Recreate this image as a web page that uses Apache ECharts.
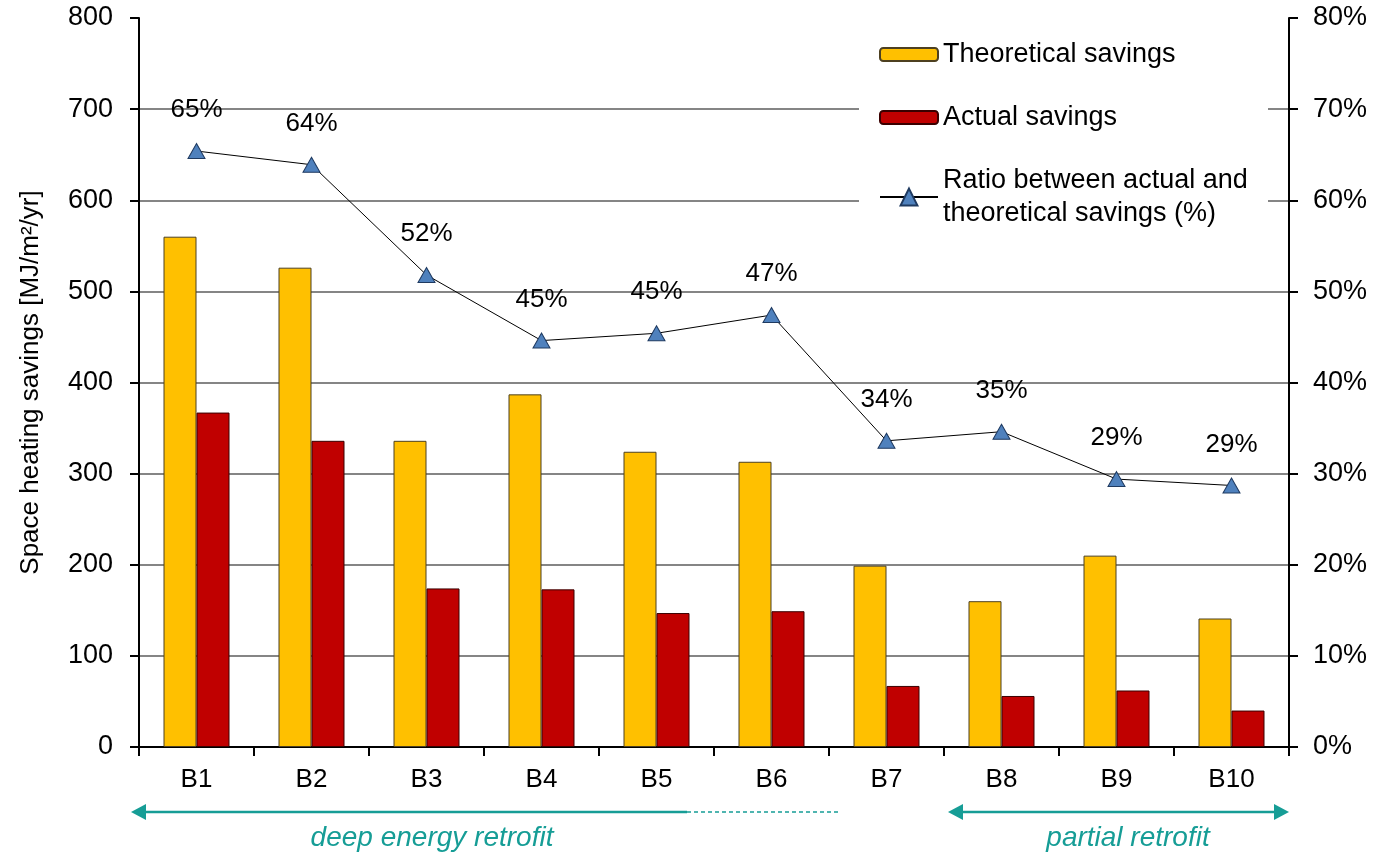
<!DOCTYPE html>
<html>
<head>
<meta charset="utf-8">
<script src="https://cdn.jsdelivr.net/npm/echarts@6/dist/echarts.min.js"></script>
<style>
html,body{margin:0;padding:0;background:#fff;}
#chart{width:1376px;height:856px;}
</style>
</head>
<body>
<div id="chart"></div>
<script>
const categories = ['B1','B2','B3','B4','B5','B6','B7','B8','B9','B10'];
const theoretical = [560, 526, 336, 387, 324, 313, 199, 160, 210, 141];
const actual = [367, 336, 174, 173, 147, 149, 67, 56, 62, 40];
const ratio = [65.4, 63.9, 51.8, 44.6, 45.4, 47.4, 33.6, 34.6, 29.4, 28.7];
const ratioLabels = ['65%','64%','52%','45%','45%','47%','34%','35%','29%','29%'];
const leftTicks = [0, 800, 100];
const rightTicks = [0, 80, 10];

const FONT = '"Liberation Sans", Arial, sans-serif';
const TEAL = '#169d96';
const RATIO_NAME = 'Ratio between actual and\ntheoretical savings (%)';

const chart = echarts.init(document.getElementById('chart'));
chart.setOption({
  animation: false,
  backgroundColor: '#fff',
  textStyle: { fontFamily: FONT },
  grid: { left: 139, right: 87, top: 18, bottom: 109 },
  legend: [{
    orient: 'vertical',
    left: 859,
    top: 30,
    padding: [8, 20, 8, 20],
    itemWidth: 58,
    itemHeight: 13,
    itemGap: 30,
    textStyle: { fontFamily: FONT, fontSize: 27, color: '#000', lineHeight: 33 },
    data: ['Theoretical savings', 'Actual savings']
  }, {
    orient: 'vertical',
    left: 859,
    top: 156,
    padding: [8, 20, 8, 20],
    itemWidth: 58,
    itemHeight: 21,
    textStyle: { fontFamily: FONT, fontSize: 27, color: '#000', lineHeight: 33 },
    data: [RATIO_NAME]
  }],
  xAxis: [{
    type: 'category',
    data: categories,
    axisLine: { lineStyle: { color: '#000', width: 2 } },
    axisTick: { show: true, length: 9, lineStyle: { color: '#000', width: 2 } },
    axisLabel: { fontFamily: FONT, fontSize: 26, color: '#000', margin: 20 },
    splitLine: { show: false }
  }, {
    type: 'category',
    position: 'top',
    data: categories,
    axisLine: { lineStyle: { color: '#000', width: 2 } },
    axisTick: { show: false },
    axisLabel: { show: false }
  }],
  yAxis: [{
    type: 'value',
    min: leftTicks[0], max: leftTicks[1], interval: leftTicks[2],
    name: 'Space heating savings [MJ/m\u00b2/yr]',
    nameLocation: 'middle',
    nameGap: 95,
    nameTextStyle: { fontFamily: FONT, fontSize: 26, color: '#000' },
    axisLine: { show: true, lineStyle: { color: '#000', width: 2 } },
    axisTick: { show: true, length: 9, lineStyle: { color: '#000', width: 2 } },
    axisLabel: { fontFamily: FONT, fontSize: 27, color: '#000', margin: 26 },
    splitLine: { show: true, showMinLine: false, showMaxLine: false, lineStyle: { color: '#858585', width: 2 } }
  }, {
    type: 'value',
    min: rightTicks[0], max: rightTicks[1], interval: rightTicks[2],
    position: 'right',
    axisLine: { show: true, lineStyle: { color: '#000', width: 2 } },
    axisTick: { show: true, length: 9, lineStyle: { color: '#000', width: 2 } },
    axisLabel: { fontFamily: FONT, fontSize: 27, color: '#000', margin: 24, formatter: '{value}%' },
    splitLine: { show: false }
  }],
  series: [{
    name: 'Theoretical savings',
    type: 'bar',
    data: theoretical,
    barWidth: 33,
    barGap: '0%',
    itemStyle: { color: '#FFC000', borderColor: '#4d4020', borderWidth: 1 }
  }, {
    name: 'Actual savings',
    type: 'bar',
    data: actual,
    barWidth: 33,
    barGap: '0%',
    itemStyle: { color: '#C00000', borderColor: '#3a0000', borderWidth: 1 }
  }, {
    name: RATIO_NAME,
    type: 'line',
    yAxisIndex: 1,
    data: ratio,
    symbol: 'triangle',
    symbolSize: [17, 15],
    lineStyle: { color: '#000', width: 1 },
    itemStyle: { color: '#4F81BD', borderColor: '#1f3a60', borderWidth: 1 },
    label: {
      show: true,
      position: 'top',
      distance: 20,
      fontFamily: FONT,
      fontSize: 26,
      color: '#000',
      formatter: p => ratioLabels[p.dataIndex]
    },
    z: 5
  }],
  graphic: [
    { type: 'rect', z: 1, shape: { x: 859, y: 29, width: 409, height: 210 }, style: { fill: '#fff' } },
    { type: 'line', shape: { x1: 144, y1: 812, x2: 687, y2: 812 }, style: { stroke: TEAL, lineWidth: 2.5 } },
    { type: 'polygon', shape: { points: [[131, 812], [146, 804], [146, 820]] }, style: { fill: TEAL } },
    { type: 'line', shape: { x1: 687, y1: 812, x2: 839, y2: 812 }, style: { stroke: TEAL, lineWidth: 1.5, lineDash: [4, 3] } },
    { type: 'text', x: 432, y: 838, style: { text: 'deep energy retrofit', fill: TEAL, font: 'italic 28px ' + FONT, align: 'center', verticalAlign: 'middle' } },
    { type: 'line', shape: { x1: 960, y1: 812, x2: 1276, y2: 812 }, style: { stroke: TEAL, lineWidth: 2.5 } },
    { type: 'polygon', shape: { points: [[948, 812], [963, 804], [963, 820]] }, style: { fill: TEAL } },
    { type: 'polygon', shape: { points: [[1289, 812], [1274, 804], [1274, 820]] }, style: { fill: TEAL } },
    { type: 'text', x: 1128, y: 838, style: { text: 'partial retrofit', fill: TEAL, font: 'italic 28px ' + FONT, align: 'center', verticalAlign: 'middle' } }
  ]
});
</script>
</body>
</html>
